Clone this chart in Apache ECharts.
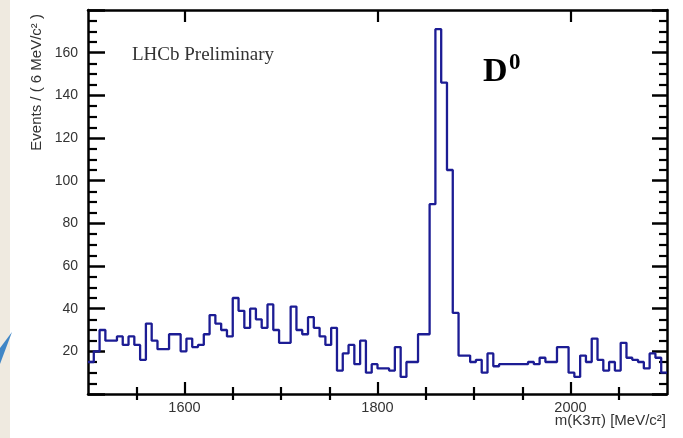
<!DOCTYPE html>
<html><head><meta charset="utf-8">
<script src="https://cdn.jsdelivr.net/npm/echarts@6/dist/echarts.min.js"></script>
<style>html,body{margin:0;padding:0;background:#fff}#c{width:683px;height:438px}</style>
</head><body><div id="c"></div>
<script>
const massMin = 1500;
const massMax = 2100;
const binWidth = 6;
const counts = [
  15,20,30,25,25,27,23,27,23,16,
  33,25,21,21,28,28,20,26,22,23,
  28,37,33,30,27,45,39,31,40,35,
  31,42,30,24,24,41,30,28,36,31,
  27,23,31,11,19,23,14,25,10,14,
  12,12,11,22,8,15,15,28,28,89,
  171,146,105,38,18,18,15,16,10,19,
  13,14,14,14,14,14,15,14,17,15,
  15,22,22,10,8,18,15,26,16,11,
  15,11,24,17,16,15,12,19,17,10
];
const xMajorTicks = [1600, 1800, 2000];
const xMinorTicks = [1550, 1650, 1700, 1750, 1850, 1900, 1950, 2050];
const yTickLabels = [20, 40, 60, 80, 100, 120, 140, 160];

const histData = counts.map((v, i) => [massMin + binWidth * i, v]);
histData.push([massMax, counts[counts.length - 1]]);

const chart = echarts.init(document.getElementById('c'), null, {renderer: 'canvas'});
const font = 'Liberation Sans, Arial, sans-serif';
const serif = 'Liberation Serif, Times New Roman, serif';
const axLine = {show: true, onZero: false, lineStyle: {color: '#000', width: 2.5}};
function xAx(pos, ticks, len, showLine, labels) {
  return {
    type: 'value', position: pos, min: massMin, max: massMax,
    axisLine: showLine ? axLine : {show: false},
    splitLine: {show: false},
    axisTick: {show: true, inside: true, length: len, customValues: ticks, lineStyle: {color: '#000', width: 2.2}},
    axisLabel: labels ? {show: true, customValues: ticks, formatter: v => String(v), margin: 6, fontSize: 14.5, color: '#333', fontFamily: font} : {show: false}
  };
}
function yAx(pos, len, minorLen, labels) {
  return {
    type: 'value', position: pos, min: 0, max: 180, interval: 20,
    axisLine: axLine,
    splitLine: {show: false},
    axisTick: {show: true, inside: true, length: len, lineStyle: {color: '#000', width: 2.5}},
    minorTick: {show: true, splitNumber: 4, length: minorLen, lineStyle: {color: '#000', width: 2.2}},
    minorSplitLine: {show: false},
    axisLabel: labels ? {show: true, customValues: yTickLabels, formatter: v => String(v), margin: 10, fontSize: 14, color: '#333', fontFamily: font} : {show: false}
  };
}
chart.setOption({
  animation: false,
  backgroundColor: '#fff',
  grid: {left: 88, right: 16, top: 10, bottom: 44},
  xAxis: [
    xAx('bottom', xMajorTicks, 12, true, true),
    xAx('bottom', xMinorTicks, 7, false, false),
    xAx('top', xMajorTicks, 12, true, false),
    xAx('top', xMinorTicks, 6, false, false)
  ],
  yAxis: [
    yAx('left', 17, 9, true),
    yAx('right', 15, 8, false)
  ],
  series: [{
    type: 'line', xAxisIndex: 0, yAxisIndex: 0,
    data: histData, step: 'end', symbol: 'none',
    lineStyle: {color: '#1c1c94', width: 2.3}, z: 3
  }],
  graphic: [
    {type: 'rect', left: 0, top: 0, shape: {width: 10, height: 438}, style: {fill: '#efeae0'}, silent: true},
    {type: 'polygon', shape: {points: [[12, 332], [0, 348], [0, 364]]}, style: {fill: '#3f86c6'}, silent: true},
    {type: 'text', x: 37, y: 14, rotation: Math.PI / 2,
      style: {text: 'Events / ( 6 MeV/c² )', align: 'right', verticalAlign: 'middle', fontSize: 15, fontFamily: font, fill: '#333'}},
    {type: 'text', x: 666, y: 421,
      style: {text: 'm(K3π) [MeV/c²]', align: 'right', verticalAlign: 'middle', fontSize: 15, fontFamily: font, fill: '#333'}},
    {type: 'text', x: 132, y: 55,
      style: {text: 'LHCb Preliminary', align: 'left', verticalAlign: 'middle', fontSize: 19, fontFamily: serif, fill: '#333'}},
    {type: 'text', x: 483, y: 72,
      style: {text: 'D', align: 'left', verticalAlign: 'middle', fontSize: 34, fontWeight: 'bold', fontFamily: serif, fill: '#000'}},
    {type: 'text', x: 509, y: 63,
      style: {text: '0', align: 'left', verticalAlign: 'middle', fontSize: 23, fontWeight: 'bold', fontFamily: serif, fill: '#000'}}
  ]
});
</script></body></html>
